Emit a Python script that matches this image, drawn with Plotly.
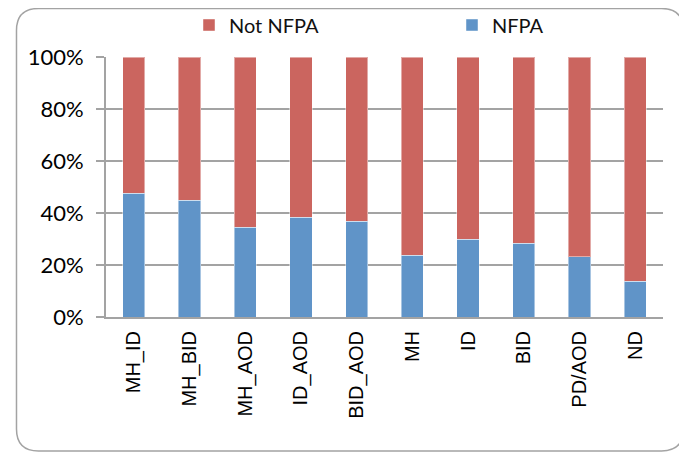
import plotly.graph_objects as go

# categories along the x axis
groups = ['MH_ID', 'MH_BID', 'MH_AOD', 'ID_AOD', 'BID_AOD', 'MH', 'ID', 'BID', 'PD/AOD', 'ND']

# share of each group (percent)
nfpa = [47.6, 45.0, 34.5, 38.3, 36.8, 23.7, 30.0, 28.3, 23.1, 13.7]
not_nfpa = [100 - v for v in nfpa]

y_ticks = [0, 20, 40, 60, 80, 100]
y_labels = ['0%', '20%', '40%', '60%', '80%', '100%']

# the page body adds an 8px margin, so the figure is laid out in page pixels minus 8
OFF = 8
W, H = 687 - OFF, 452 - OFF
L, T = 106 - OFF, 57 - OFF
R, B = W - (663 - OFF), H - (317 - OFF)
pw, ph = W - L - R, H - T - B

BLUE = '#6094C8'
RED = '#CB655F'
GREY = '#A3A3A3'

fig = go.Figure()
fig.add_trace(go.Bar(x=groups, y=nfpa, name='NFPA', marker_color=BLUE,
                     marker_line=dict(color='rgba(255,255,255,0.45)', width=1),
                     legend='legend2'))
fig.add_trace(go.Bar(x=groups, y=not_nfpa, name='Not NFPA', marker_color=RED,
                     marker_line=dict(color='rgba(255,255,255,0.45)', width=1),
                     legend='legend'))


def px2paper(x, y):
    # page pixel -> paper coords
    return (x - OFF - L) / pw, (H - B - (y - OFF)) / ph


# rounded chart border, in page pixels
x0, x1, y0, y1, r = 16.5, 683.5, 8.5, 451, 22
pts = [
    ('M', (x0 + r, y0)), ('L', (x1 - r, y0)), ('Q', (x1, y0), (x1, y0 + r)),
    ('L', (x1, y1 - r)), ('Q', (x1, y1), (x1 - r, y1)),
    ('L', (x0 + r, y1)), ('Q', (x0, y1), (x0, y1 - r)),
    ('L', (x0, y0 + r)), ('Q', (x0, y0), (x0 + r, y0)),
]
path = ''
for p in pts:
    path += p[0] + ' '.join('%.4f,%.4f' % px2paper(*c) for c in p[1:]) + ' '
path += 'Z'

fig.add_shape(type='path', path=path, xref='paper', yref='paper',
              line=dict(color=GREY, width=1.5), layer='below')

leg_font = dict(family='Lato', size=20, color='#111111')
fig.update_layout(
    width=W, height=H,
    margin=dict(l=L, r=R, t=T, b=B, autoexpand=False),
    barmode='stack', bargap=0.6,
    plot_bgcolor='white', paper_bgcolor='white',
    showlegend=True,
    legend=dict(orientation='h', x=px2paper(189, 0)[0], xanchor='left',
                y=px2paper(0, 25)[1], yanchor='middle', font=leg_font,
                itemwidth=30, bgcolor='rgba(0,0,0,0)'),
    legend2=dict(orientation='h', x=px2paper(452, 0)[0], xanchor='left',
                 y=px2paper(0, 25)[1], yanchor='middle', font=leg_font,
                 itemwidth=30, bgcolor='rgba(0,0,0,0)'),
    xaxis=dict(tickangle=-90, showline=True, linecolor=GREY, linewidth=2,
               ticks='', tickfont=dict(family='Liberation Sans', size=20, color='black'),
               ticklabelstandoff=4),
    yaxis=dict(range=[0, 100], tickvals=y_ticks, ticktext=y_labels,
               showgrid=True, gridcolor=GREY, gridwidth=2,
               showline=True, linecolor=GREY, linewidth=2,
               ticks='outside', ticklen=8, tickcolor=GREY, tickwidth=2,
               zeroline=False, ticklabelstandoff=8,
               tickfont=dict(family='Lato', size=22, color='black')),
)

fig.write_html("out.html")
